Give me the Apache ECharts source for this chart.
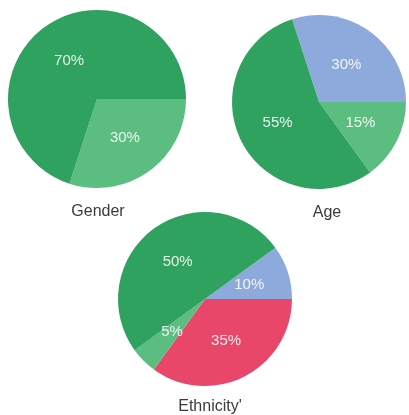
<!DOCTYPE html>
<html>
<head>
<meta charset="utf-8">
<script src="https://cdn.jsdelivr.net/npm/echarts@6/dist/echarts.min.js"></script>
<style>
html,body{margin:0;padding:0;background:#fff;}
#chart{width:409px;height:415px;}
</style>
</head>
<body>
<div id="chart"></div>
<script>
// Data
const genderNames = ['Female', 'Male'];
const genderValues = [30, 70];
const ageNames = ['Group A', 'Group B', 'Group C'];
const ageValues = [30, 15, 55];
const ethnicityNames = ['Group A', 'Group B', 'Group C', 'Group D'];
const ethnicityValues = [10, 35, 5, 50];
const titles = ['Gender', 'Age', "Ethnicity'"];

const DARK = '#2fa25f';
const LIGHT = '#5cbd80';
const BLUE = '#8eaadc';
const RED = '#e8476a';

const genderColors = [LIGHT, DARK];
const ageColors = [BLUE, LIGHT, DARK];
const ethColors = [BLUE, RED, LIGHT, DARK];

function mk(names, values, colors) {
  return names.map((n, i) => ({ name: n, value: values[i], itemStyle: { color: colors[i] } }));
}

const labelStyle = {
  show: true,
  position: 'inside',
  formatter: '{c}%',
  color: 'rgba(255,255,255,0.88)',
  fontSize: 15,
  fontFamily: 'Liberation Sans, Arial, sans-serif'
};
const titleStyle = { fontSize: 16, fontWeight: 'normal', color: '#3a3a3a', fontFamily: 'Liberation Sans, Arial, sans-serif' };

const chart = echarts.init(document.getElementById('chart'), null, { renderer: 'canvas' });
chart.setOption({
  animation: false,
  backgroundColor: '#ffffff',
  title: [
    { text: titles[0], left: 93, top: 199, textAlign: 'center', textStyle: titleStyle },
    { text: titles[1], left: 322, top: 200, textAlign: 'center', textStyle: titleStyle },
    { text: titles[2], left: 205, top: 394, textAlign: 'center', textStyle: titleStyle }
  ],
  series: [
    {
      type: 'pie', center: [97, 99], radius: [0, 89], startAngle: 0, clockwise: true,
      label: labelStyle,
      labelLine: { show: false },
      itemStyle: { borderWidth: 0 },
      emphasis: { disabled: true },
      data: mk(genderNames, genderValues, genderColors)
    },
    {
      type: 'pie', center: [319, 102], radius: [0, 87], startAngle: 108, clockwise: true,
      label: labelStyle,
      labelLine: { show: false },
      itemStyle: { borderWidth: 0 },
      emphasis: { disabled: true },
      data: mk(ageNames, ageValues, ageColors)
    },
    {
      type: 'pie', center: [205, 299], radius: [0, 87], startAngle: 36, clockwise: true,
      label: labelStyle,
      labelLine: { show: false },
      itemStyle: { borderWidth: 0 },
      emphasis: { disabled: true },
      data: mk(ethnicityNames, ethnicityValues, ethColors)
    }
  ]
});
</script>
</body>
</html>
